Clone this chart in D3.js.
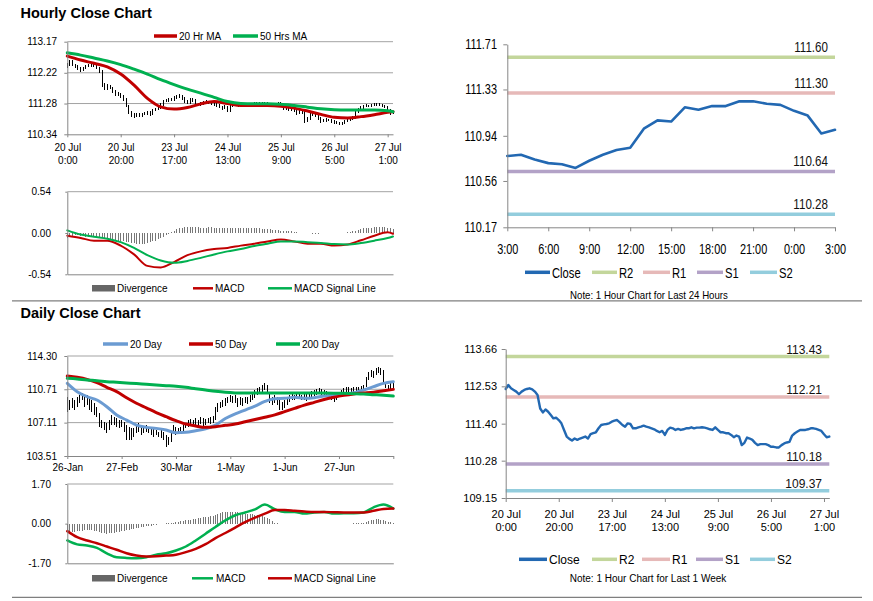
<!DOCTYPE html>
<html><head><meta charset="utf-8">
<script src="https://cdn.jsdelivr.net/npm/d3@7"></script>
<style>body{margin:0;background:#fff}svg{display:block}</style>
</head><body><svg id="c" width="873" height="601"></svg>
<script>
// ================= DATA =================
// Hourly (last 1 week) – 123 hourly points
const hourTickIdx  = [0,20,40,60,80,100,120];
const hourTickDate = ["20 Jul","20 Jul","23 Jul","24 Jul","25 Jul","26 Jul","27 Jul"];
const hourTickTime = ["0:00","20:00","17:00","13:00","9:00","5:00","1:00"];
const hourlyClose = [
112.45,112.57,112.47,112.42,112.37,112.29,112.37,112.42,112.45,112.47,
112.44,112.37,112.27,111.86,111.74,111.83,111.76,111.66,111.56,111.58,
111.51,111.41,111.21,111.01,110.94,110.89,110.95,110.91,110.95,110.98,
111.01,110.95,111.08,111.11,111.14,111.26,111.36,111.38,111.39,111.41,
111.46,111.49,111.51,111.44,111.36,111.31,111.41,111.39,111.26,111.26,
111.29,111.31,111.34,111.31,111.29,111.26,111.23,111.18,111.14,111.18,
111.06,111.21,111.28,111.26,111.21,111.24,111.21,111.23,111.26,111.26,
111.29,111.26,111.28,111.28,111.29,111.28,111.26,111.23,111.21,111.29,
111.21,111.14,111.14,111.11,111.11,111.06,110.99,111.04,111.01,110.75,
110.82,110.98,110.95,110.91,110.82,110.75,110.78,110.78,110.78,110.75,
110.70,110.70,110.68,110.68,110.75,110.80,110.83,110.85,111.04,111.11,
111.16,111.21,111.21,111.21,111.23,111.26,111.26,111.24,111.21,111.18,
111.08,110.99,111.01];
const hourlyHigh = [
112.52,112.62,112.60,112.50,112.46,112.40,112.41,112.46,112.50,112.52,
112.50,112.47,112.40,112.30,111.90,111.88,111.86,111.79,111.70,111.63,
111.61,111.54,111.44,111.25,111.04,110.98,110.99,110.98,110.99,111.02,
111.05,111.04,111.12,111.15,111.19,111.30,111.40,111.43,111.44,111.46,
111.50,111.54,111.56,111.54,111.47,111.40,111.45,111.44,111.42,111.31,
111.33,111.36,111.38,111.37,111.35,111.33,111.30,111.27,111.22,111.23,
111.21,111.25,111.33,111.32,111.29,111.28,111.28,111.27,111.30,111.31,
111.34,111.33,111.32,111.33,111.34,111.33,111.31,111.29,111.27,111.33,
111.32,111.25,111.19,111.18,111.16,111.15,111.09,111.08,111.07,111.04,
110.87,111.02,111.01,110.98,110.94,110.86,110.82,110.83,110.82,110.81,
110.78,110.75,110.73,110.72,110.79,110.84,110.87,110.90,111.08,111.15,
111.20,111.25,111.26,111.25,111.27,111.30,111.31,111.29,111.28,111.24,
111.21,111.12,111.06];
const hourlyLow = [
112.36,112.42,112.43,112.37,112.31,112.24,112.26,112.33,112.39,112.41,
112.39,112.33,112.22,111.80,111.68,111.70,111.71,111.61,111.51,111.52,
111.46,111.36,111.16,110.95,110.88,110.84,110.86,110.87,110.88,110.92,
110.94,110.91,110.93,111.04,111.07,111.11,111.22,111.32,111.34,111.35,
111.37,111.42,111.45,111.40,111.31,111.26,111.28,111.34,111.21,111.21,
111.22,111.25,111.27,111.27,111.24,111.21,111.18,111.13,111.09,111.10,
111.01,111.03,111.17,111.22,111.16,111.17,111.17,111.17,111.19,111.22,
111.22,111.22,111.22,111.24,111.24,111.24,111.21,111.19,111.16,111.18,
111.17,111.09,111.09,111.06,111.06,111.01,110.94,110.95,110.96,110.70,
110.72,110.79,110.91,110.86,110.77,110.70,110.71,110.73,110.74,110.70,
110.65,110.65,110.63,110.62,110.64,110.71,110.76,110.79,110.82,111.00,
111.07,111.12,111.16,111.17,111.17,111.19,111.21,111.20,111.17,111.13,
111.03,110.94,110.95];
const hourlyMaIdx = [0,5,10,15,20,25,30,35,40,45,50,55,60,65,70,75,80,85,90,95,100,105,110,115,120,122];
const ma20Hr = [112.73,112.61,112.51,112.40,112.18,111.84,111.44,111.18,111.11,111.16,111.27,111.34,111.28,111.22,111.22,111.22,111.20,111.14,111.05,110.95,110.86,110.84,110.88,110.94,111.01,111.03];
const ma50Hr = [112.83,112.76,112.67,112.58,112.47,112.33,112.18,112.01,111.86,111.72,111.60,111.47,111.34,111.28,111.27,111.27,111.26,111.22,111.17,111.12,111.09,111.08,111.08,111.08,111.06,111.03];
const hourlyYTicks = [110.34,111.28,112.22,113.17];
const macdHr   = [-0.035,-0.065,-0.10,-0.10,-0.165,-0.28,-0.43,-0.45,-0.38,-0.29,-0.24,-0.21,-0.195,-0.165,-0.14,-0.11,-0.085,-0.11,-0.14,-0.14,-0.165,-0.15,-0.095,-0.035,0.01,-0.01];
const signalHr = [0.035,-0.02,-0.05,-0.075,-0.12,-0.195,-0.29,-0.36,-0.39,-0.365,-0.325,-0.28,-0.24,-0.21,-0.17,-0.14,-0.11,-0.11,-0.12,-0.13,-0.145,-0.15,-0.13,-0.10,-0.065,-0.045];
const divHr = [
-0.06,-0.05,-0.04,-0.03,-0.03,-0.04,-0.04,-0.05,-0.05,-0.05,
-0.05,-0.06,-0.06,-0.07,-0.08,-0.08,-0.09,-0.09,-0.10,-0.10,
-0.10,-0.11,-0.12,-0.12,-0.13,-0.13,-0.14,-0.14,-0.14,-0.14,
-0.13,-0.12,-0.11,-0.10,-0.08,-0.06,-0.05,-0.03,-0.01,0.01,
0.03,0.05,0.06,0.07,0.08,0.08,0.08,0.08,0.08,0.08,
0.07,0.07,0.07,0.08,0.08,0.07,0.06,0.06,0.06,0.06,
0.06,0.06,0.06,0.06,0.06,0.06,0.06,0.06,0.06,0.06,
0.06,0.06,0.06,0.05,0.05,0.05,0.05,0.04,0.04,0.04,
0.03,0.03,0.02,0.02,0.02,0.01,0.01,0.00,0.00,0.00,
0.00,0.00,-0.01,-0.01,-0.01,0.00,0.00,0.00,0.00,0.00,
0.00,0.00,0.00,0.00,0.00,0.01,0.01,0.02,0.03,0.04,
0.05,0.06,0.06,0.07,0.07,0.08,0.08,0.08,0.08,0.08,
0.07,0.06,0.05];
const macdHrTicks = [-0.54,0,0.54];

// Last 24 hours
const dayTickIdx = [0,3,6,9,12,15,18,21,24];
const dayTickLabels = ["3:00","6:00","9:00","12:00","15:00","18:00","21:00","0:00","3:00"];
const close24 = [110.77,110.78,110.74,110.71,110.70,110.67,110.73,110.78,110.82,110.84,111.00,111.07,111.06,111.18,111.16,111.19,111.19,111.23,111.23,111.21,111.20,111.15,111.11,110.96,110.99];
const y24Ticks = [110.17,110.56,110.94,111.33,111.71];
const levelNames = ["R2","R1","S1","S2"];
const levelColors = ["#c3d69b","#e6b9b8","#b3a2c7","#93cddd"];
const levels24 = [111.60,111.30,110.64,110.28];
const levelsWeek = [113.43,112.21,110.18,109.37];
const weekYTicks = [109.15,110.28,111.40,112.53,113.66];

// Daily – 133 daily points
const dailyTickIdx = [0,22,44,66,88,110,132];
const dailyTickLabels = ["26-Jan","27-Feb","30-Mar","1-May","1-Jun","27-Jun"];
const dailyHigh = [
109.91,109.55,109.73,109.55,109.91,110.09,110.27,109.91,110.09,109.91,
109.55,109.19,108.83,108.11,107.39,107.21,107.03,107.39,107.93,107.75,
107.57,107.39,107.39,107.21,106.85,106.67,106.49,106.49,106.85,107.03,
106.85,106.67,106.85,106.67,106.49,106.49,106.31,106.13,106.31,106.13,
105.77,105.60,106.13,106.85,106.67,106.49,106.67,106.85,107.03,107.39,
107.47,107.39,107.57,107.39,107.68,107.57,107.47,107.57,107.75,107.83,
108.83,109.19,109.37,109.55,109.73,109.91,110.09,109.98,110.09,109.73,
109.91,109.73,109.91,109.91,110.09,110.27,110.63,110.81,110.92,111.17,
111.35,111.17,110.27,109.91,110.09,109.91,109.55,109.37,109.55,109.73,
110.09,110.27,110.09,110.27,110.20,110.09,110.27,110.20,110.45,110.56,
110.63,110.70,110.81,110.70,110.63,110.56,110.45,110.45,110.27,110.27,
110.45,110.63,110.81,110.99,110.92,110.81,110.92,110.99,110.92,111.06,
111.17,112.07,112.61,112.79,112.72,112.97,113.15,112.97,112.79,111.53,
111.17,111.35,111.42];
const dailyLow = [
108.29,108.47,108.65,108.47,108.83,109.19,109.55,108.83,109.01,108.47,
108.29,107.93,107.75,106.67,106.49,106.31,105.95,106.31,106.85,106.85,
106.67,106.49,106.67,106.13,105.24,105.24,105.24,105.60,105.95,106.13,
105.77,105.95,106.13,105.95,105.77,105.60,105.77,105.60,105.42,105.24,
104.52,104.70,105.06,105.95,105.77,105.95,106.13,106.13,106.49,106.67,
106.75,106.85,106.85,106.75,106.96,106.75,106.85,107.03,106.96,107.11,
107.39,108.29,108.65,108.83,108.90,109.19,109.37,109.19,109.26,108.83,
109.01,108.90,109.19,109.12,109.37,109.55,109.73,110.09,110.27,110.45,
110.63,110.27,109.19,109.01,109.19,109.01,108.47,108.47,108.65,109.01,
109.37,109.55,109.55,109.62,109.62,109.55,109.55,109.48,109.73,109.91,
109.98,110.09,110.20,109.91,109.98,109.91,109.73,109.55,109.37,109.55,
109.84,110.09,110.20,110.34,110.34,110.27,110.34,110.45,110.34,110.45,
110.56,111.00,111.71,112.07,111.89,112.25,112.43,112.25,111.53,110.81,
110.63,110.70,110.81];
const dailyMaIdx = [0,4,8,12,16,20,24,28,32,36,40,44,48,52,56,60,64,68,72,76,80,84,88,92,96,100,104,108,112,116,120,124,128,132];
const ma20Day  = [111.35,110.45,109.91,109.55,108.83,107.93,107.39,106.85,106.60,106.49,106.31,106.03,106.06,106.24,106.45,106.85,107.55,108.05,108.47,108.90,109.40,109.70,109.73,109.84,109.73,109.80,109.98,110.09,110.20,110.34,110.63,110.99,111.35,111.53];
const ma50Day  = [112.14,112.00,111.78,111.42,110.92,110.45,109.80,109.20,108.70,108.20,107.75,107.32,106.96,106.75,106.60,106.67,106.82,106.96,107.20,107.45,107.70,107.95,108.30,108.65,109.00,109.30,109.60,109.85,110.05,110.20,110.30,110.40,110.55,110.70];
const ma200Day = [111.89,111.82,111.71,111.64,111.53,111.46,111.39,111.32,111.24,111.17,111.10,111.03,110.92,110.77,110.63,110.49,110.38,110.32,110.30,110.30,110.30,110.30,110.30,110.30,110.30,110.30,110.30,110.29,110.27,110.24,110.20,110.13,110.06,109.98];
const dailyYTicks = [103.51,107.11,110.71,114.30];
const macdDay   = [-0.72,-0.89,-0.94,-1.04,-1.27,-1.44,-1.47,-1.48,-1.44,-1.33,-1.27,-1.15,-0.98,-0.72,-0.43,-0.14,0.14,0.36,0.48,0.61,0.82,0.62,0.50,0.50,0.43,0.48,0.50,0.43,0.45,0.45,0.48,0.70,0.82,0.65];
const signalDay = [-0.32,-0.58,-0.72,-0.84,-0.98,-1.12,-1.27,-1.37,-1.41,-1.40,-1.37,-1.33,-1.22,-1.08,-0.88,-0.62,-0.40,-0.17,0.07,0.26,0.43,0.58,0.58,0.55,0.52,0.50,0.50,0.49,0.48,0.48,0.48,0.55,0.63,0.65];
const divDay = [
-0.36,-0.38,-0.36,-0.35,-0.33,-0.32,-0.30,-0.28,-0.27,-0.27,
-0.28,-0.30,-0.32,-0.36,-0.40,-0.42,-0.43,-0.42,-0.40,-0.38,
-0.36,-0.34,-0.32,-0.30,-0.28,-0.26,-0.24,-0.22,-0.20,-0.18,
-0.16,-0.14,-0.12,-0.10,-0.08,-0.06,-0.04,-0.03,-0.02,-0.01,
0.01,0.02,0.03,0.04,0.06,0.08,0.10,0.12,0.14,0.15,
0.17,0.19,0.21,0.24,0.26,0.28,0.29,0.30,0.32,0.34,
0.38,0.42,0.46,0.49,0.50,0.51,0.52,0.51,0.50,0.48,
0.46,0.44,0.43,0.42,0.41,0.40,0.38,0.36,0.34,0.32,
0.30,0.25,0.18,0.10,0.04,0.01,-0.01,-0.02,-0.02,-0.02,
-0.02,-0.02,-0.03,-0.03,-0.02,-0.02,-0.02,-0.01,-0.01,-0.01,
-0.01,0.00,0.00,-0.01,-0.02,-0.03,-0.03,-0.03,-0.02,-0.02,
-0.02,-0.01,-0.01,-0.01,0.00,0.00,0.01,0.01,0.01,0.02,
0.04,0.08,0.12,0.15,0.17,0.18,0.18,0.17,0.15,0.12,
0.08,0.05,0.02];
const macdDayTicks = [-1.7,0,1.7];

// ================= DRAWING =================
const svg = d3.select("#c");
const FAM = "'Liberation Sans', Arial, Helvetica, sans-serif";
svg.attr("font-family", FAM);
const AX = "#868686", GRID = "#a3a3a3";
const RED = "#c00000", GREEN = "#00b050", BLUE = "#6b9bd2", CLOSE = "#2268b2", DIVC = "#767676";

function squeeze(sel, f){
  if(!f || f===1) return;
  sel.each(function(){
    const L = this.getComputedTextLength();
    this.setAttribute("textLength", (L*f).toFixed(2));
    this.setAttribute("lengthAdjust","spacingAndGlyphs");
  });
}
function label(g,x,y,s,o={}){
  const t = g.append("text").attr("x",x).attr("y",y).text(s)
    .attr("font-size",o.size||10).attr("text-anchor",o.anchor||"start")
    .attr("fill",o.fill||"#000").attr("font-family",FAM);
  if(o.bold) t.attr("font-weight","bold");
  squeeze(t,o.sq);
  return t;
}
function legLine(x1,x2,y,c,w){
  svg.append("line").attr("x1",x1).attr("x2",x2).attr("y1",y).attr("y2",y)
    .attr("stroke",c).attr("stroke-width",w||3);
}
function yAxis(y, ticks, xPos, textRight, o={}){
  const a = svg.append("g").attr("transform",`translate(${xPos},0)`)
    .call(d3.axisLeft(y).tickValues(ticks).tickFormat(d=>d.toFixed(2)).tickSize(o.tick||3).tickSizeOuter(0));
  a.attr("font-family",FAM).attr("font-size",o.size||10);
  a.select(".domain").attr("stroke",AX);
  a.selectAll(".tick line").attr("stroke",AX);
  a.selectAll(".tick text").attr("x",textRight-xPos).attr("fill","#000");
  squeeze(a.selectAll(".tick text"), o.sq);
}
function xAxis(x, ticks, yPos, l1, l2, o={}){
  const a = svg.append("g").attr("transform",`translate(0,${yPos})`)
    .call(d3.axisBottom(x).tickValues(ticks).tickFormat(()=>"").tickSize(o.tick||3).tickSizeOuter(0));
  a.select(".domain").attr("stroke",AX);
  a.selectAll(".tick line").attr("stroke",AX);
  a.selectAll(".tick").each(function(d,i){
    const t = d3.select(this);
    if(l1 && l1[i]!==undefined) label(t,0,o.y1,l1[i],{size:o.size||10,anchor:"middle",sq:o.sq});
    if(l2 && l2[i]!==undefined) label(t,0,o.y2,l2[i],{size:o.size||10,anchor:"middle",sq:o.sq});
  });
}
function grid(y, ticks, x0, x1){
  svg.append("g").selectAll("line").data(ticks).join("line")
    .attr("x1",x0).attr("x2",x1).attr("y1",d=>y(d)).attr("y2",d=>y(d))
    .attr("stroke",GRID).attr("stroke-width",1);
}
function bars(x, y, hi, lo){
  svg.append("g").attr("shape-rendering","crispEdges").selectAll("line").data(hi).join("line")
    .attr("x1",(d,i)=>x(i)).attr("x2",(d,i)=>x(i))
    .attr("y1",d=>y(d)).attr("y2",(d,i)=>y(lo[i]))
    .attr("stroke","#000").attr("stroke-width",1);
}
function divBars(x, y, arr){
  svg.append("g").attr("shape-rendering","crispEdges").selectAll("line").data(arr).join("line")
    .attr("x1",(d,i)=>x(i)).attr("x2",(d,i)=>x(i))
    .attr("y1",y(0)).attr("y2",d=>y(d))
    .attr("stroke",DIVC).attr("stroke-width",1);
}
function path(x, y, idx, vals, color, w, curve){
  const ln = d3.line().x((d,i)=>x(idx ? idx[i] : i)).y(d=>y(d)).curve(curve||d3.curveMonotoneX);
  svg.append("path").attr("d",ln(vals)).attr("fill","none")
    .attr("stroke",color).attr("stroke-width",w).attr("stroke-linejoin","round").attr("stroke-linecap","round");
}

// ---------- Panel 1: Hourly close chart ----------
label(svg,20.5,18.3,"Hourly Close Chart",{size:14.5,bold:true});
const xH = d3.scaleLinear().domain([0,hourlyClose.length-1]).range([67.3,393]);
const yH = d3.scaleLinear().domain([hourlyYTicks[0],hourlyYTicks[hourlyYTicks.length-1]]).range([134.3,41.7]);
grid(yH, hourlyYTicks.slice(1), 67.3, 393);
bars(xH, yH, hourlyHigh, hourlyLow);
path(xH, yH, hourlyMaIdx, ma20Hr, RED, 3);
path(xH, yH, hourlyMaIdx, ma50Hr, GREEN, 3);
yAxis(yH, hourlyYTicks, 67.3, 57, {size:10});
xAxis(xH, hourTickIdx, 134.3, hourTickDate, hourTickTime, {y1:17.2, y2:29.7, size:10});
legLine(154,177,36,RED,3.5); label(svg,179,39.5,"20 Hr MA");
legLine(233,258,36,GREEN,3.5); label(svg,260,39.5,"50 Hrs MA");

// ---------- Panel 2: Hourly MACD ----------
const yHM = d3.scaleLinear().domain([macdHrTicks[0],macdHrTicks[2]]).range([274.3,191.7]);
grid(yHM, [macdHrTicks[2]], 67.3, 393);
divBars(xH, yHM, divHr);
path(xH, yHM, hourlyMaIdx, macdHr, RED, 2);
path(xH, yHM, hourlyMaIdx, signalHr, GREEN, 2);
yAxis(yHM, macdHrTicks, 67.3, 51, {size:10, tick:2});
xAxis(xH, [], 274.3, null, null, {});
svg.append("rect").attr("x",92).attr("y",285).attr("width",23).attr("height",6.5).attr("fill","#666");
label(svg,117,292,"Divergence");
legLine(193,213,288.3,RED,2.5); label(svg,215,292,"MACD");
legLine(268,292,288.3,GREEN,2.5); label(svg,294,292,"MACD Signal Line");

// ---------- Panel 3: Last 24 hours ----------
const x24 = d3.scaleLinear().domain([0,close24.length-1]).range([507.3,835]);
const y24 = d3.scaleLinear().domain([y24Ticks[0],y24Ticks[y24Ticks.length-1]]).range([227.3,44.3]);
levels24.forEach((v,i)=>{
  svg.append("line").attr("x1",507.3).attr("x2",835).attr("y1",y24(v)).attr("y2",y24(v))
    .attr("stroke",levelColors[i]).attr("stroke-width",3.5);
  label(svg,828,y24(v)-5.2,v.toFixed(2),{size:14.5,anchor:"end",sq:0.8,fill:"#111"});
});
path(x24, y24, null, close24, CLOSE, 2.6, d3.curveLinear);
yAxis(y24, y24Ticks, 507.3, 497, {size:14, tick:4, sq:0.78});
xAxis(x24, dayTickIdx, 227.3, dayTickLabels, null, {y1:27, size:14, tick:4, sq:0.78});
const leg24 = [[525,550,552,"Close",CLOSE],[592,617,619,"R2",levelColors[0]],[643,670,672,"R1",levelColors[1]],[697,723,725,"S1",levelColors[2]],[750,777,779,"S2",levelColors[3]]];
leg24.forEach(d=>{ legLine(d[0],d[1],272.3,d[4],3.5); label(svg,d[2],277.5,d[3],{size:14,sq:0.8}); });
label(svg,649,299.3,"Note: 1 Hour Chart for Last 24 Hours",{size:11.5,anchor:"middle",sq:0.84});

// separators
svg.append("line").attr("x1",12).attr("x2",862).attr("y1",300.8).attr("y2",300.8).attr("stroke","#7f7f7f").attr("stroke-width",1.2);
svg.append("line").attr("x1",12).attr("x2",862).attr("y1",597.3).attr("y2",597.3).attr("stroke","#7f7f7f").attr("stroke-width",1.2);

// ---------- Panel 4: Daily close chart ----------
label(svg,20.5,318.3,"Daily Close Chart",{size:14.5,bold:true});
const xD = d3.scaleLinear().domain([0,dailyHigh.length-1]).range([67.3,393.3]);
const yD = d3.scaleLinear().domain([dailyYTicks[0],dailyYTicks[dailyYTicks.length-1]]).range([456,356]);
grid(yD, dailyYTicks.slice(1), 67.3, 393.3);
bars(xD, yD, dailyHigh, dailyLow);
path(xD, yD, dailyMaIdx, ma20Day, BLUE, 3);
path(xD, yD, dailyMaIdx, ma50Day, RED, 3);
path(xD, yD, dailyMaIdx, ma200Day, GREEN, 3);
yAxis(yD, dailyYTicks, 67.3, 57, {size:10});
xAxis(xD, dailyTickIdx, 456, dailyTickLabels, null, {y1:15, size:10});
legLine(103,128,344,BLUE,3.5); label(svg,130,347.5,"20 Day");
legLine(189,213,344,RED,3.5); label(svg,215,347.5,"50 Day");
legLine(276,300,344,GREEN,3.5); label(svg,302,347.5,"200 Day");

// ---------- Panel 5: Daily MACD ----------
const yDM = d3.scaleLinear().domain([macdDayTicks[0],macdDayTicks[2]]).range([563.3,484]);
grid(yDM, [macdDayTicks[2]], 67.3, 393.3);
divBars(xD, yDM, divDay);
path(xD, yDM, dailyMaIdx, macdDay, GREEN, 2.5);
path(xD, yDM, dailyMaIdx, signalDay, RED, 2.5);
yAxis(yDM, macdDayTicks, 67.3, 51, {size:10, tick:2});
xAxis(xD, [], 563.3, null, null, {});
svg.append("rect").attr("x",92).attr("y",575).attr("width",23).attr("height",6.5).attr("fill","#666");
label(svg,117,582,"Divergence");
legLine(192,213,578.3,GREEN,2.5); label(svg,216,582,"MACD");
legLine(268,292,578.3,RED,2.5); label(svg,294,582,"MACD Signal Line");

// ---------- Panel 6: Last 1 week ----------
const xW = d3.scaleLinear().domain([0,hourlyClose.length-1]).range([505.7,829.3]);
const yW = d3.scaleLinear().domain([weekYTicks[0],weekYTicks[weekYTicks.length-1]]).range([498,349]);
levelsWeek.forEach((v,i)=>{
  svg.append("line").attr("x1",505.7).attr("x2",829.3).attr("y1",yW(v)).attr("y2",yW(v))
    .attr("stroke",levelColors[i]).attr("stroke-width",3.5);
  label(svg,822,yW(v)-3,v.toFixed(2),{size:12,anchor:"end",fill:"#111"});
});
path(xW, yW, null, hourlyClose, CLOSE, 2.4, d3.curveLinear);
yAxis(yW, weekYTicks, 505.7, 497, {size:11, tick:4});
xAxis(xW, hourTickIdx, 498, hourTickDate, hourTickTime, {y1:20, y2:32.5, size:11, tick:4});
const legW = [[519,547,549,"Close",CLOSE],[592,617,619,"R2",levelColors[0]],[642,670,672,"R1",levelColors[1]],[696,723,725,"S1",levelColors[2]],[750,775,777,"S2",levelColors[3]]];
legW.forEach(d=>{ legLine(d[0],d[1],559.3,d[4],3.5); label(svg,d[2],563.5,d[3],{size:12}); });
label(svg,648,581.5,"Note: 1 Hour Chart for Last 1 Week",{size:10,anchor:"middle"});
</script></body></html>
